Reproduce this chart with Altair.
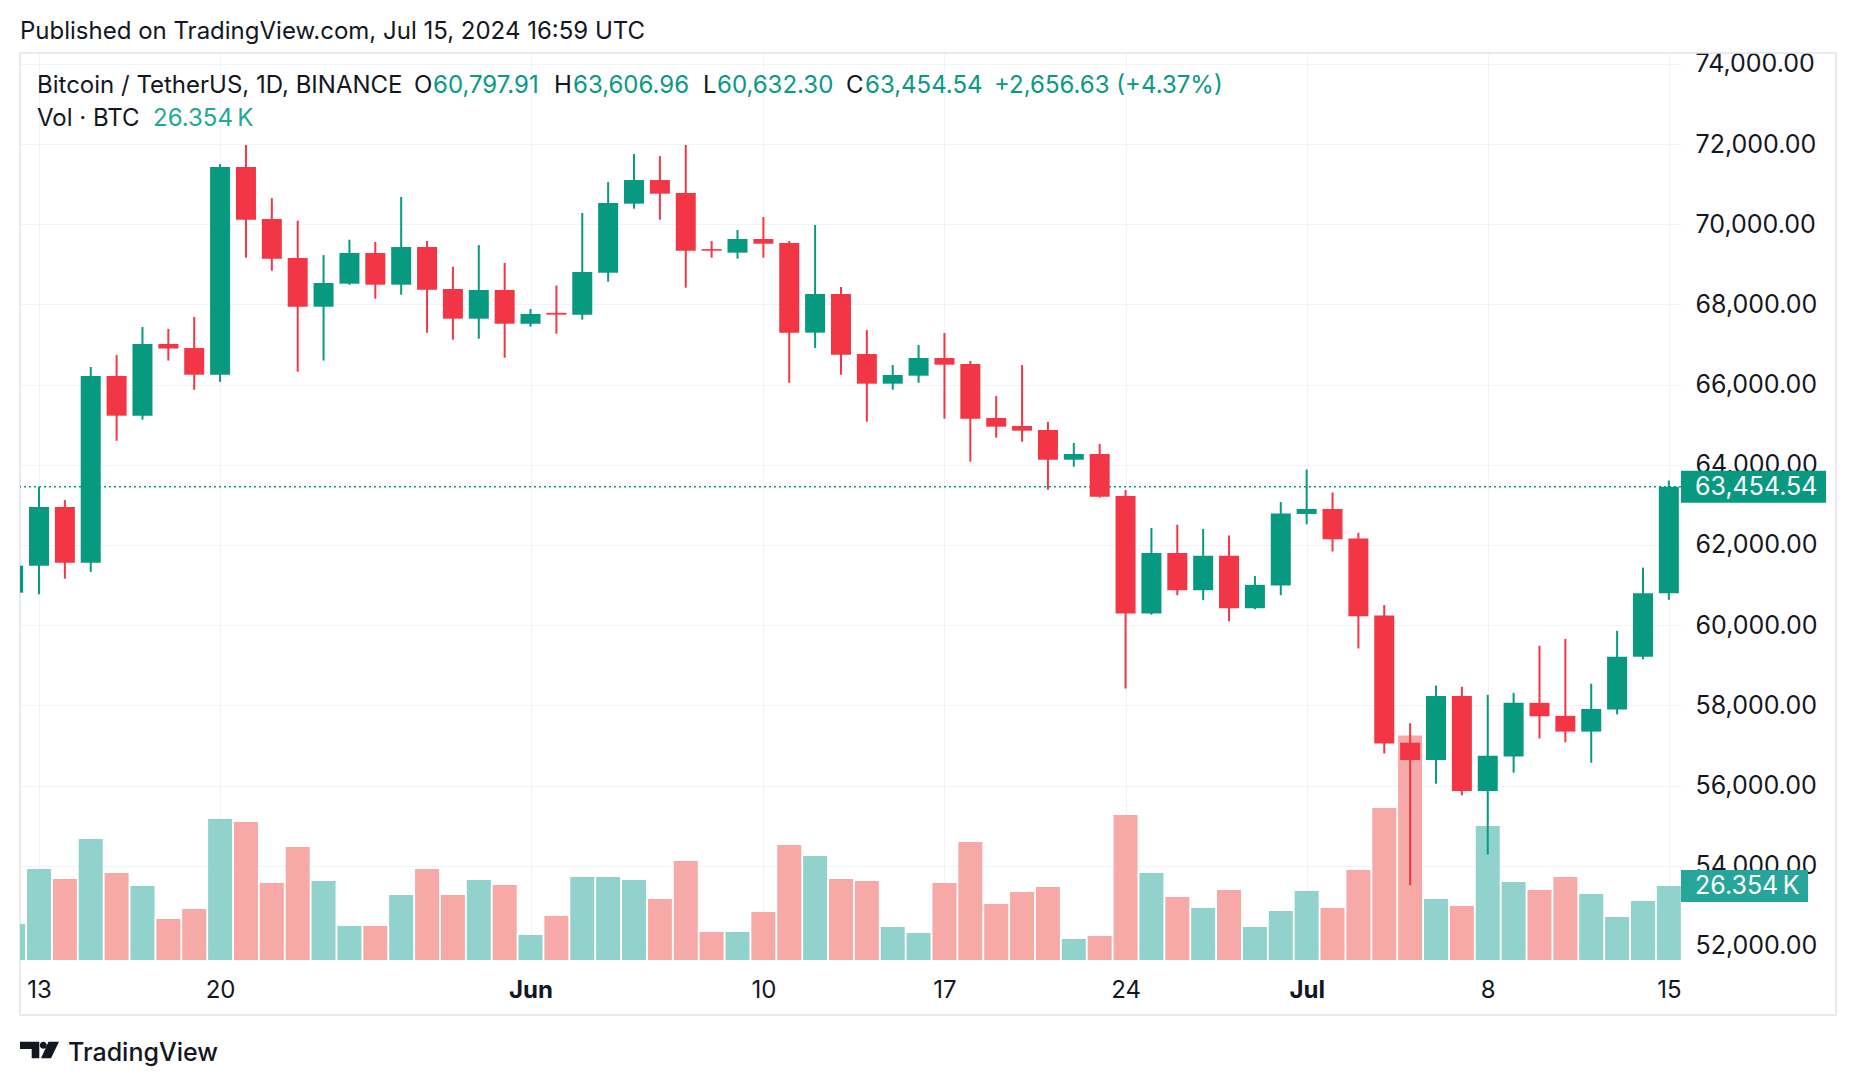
import altair as alt
import pandas as pd

# ---------------- data ----------------
dates = pd.date_range("2024-05-12", "2024-07-15", freq="D").strftime("%Y-%m-%d").tolist()

opens = [60811, 61484, 62947, 61559, 66214, 65225, 67012, 66912, 66247, 71426,
         70130, 69157, 67943, 68517, 69282, 68492, 69431, 68384, 67644, 68359,
         67519, 67790, 67744, 68791, 70512, 71102, 70778, 69380, 69290, 69631,
         69531, 67295, 68259, 66763, 66023, 66222, 66663, 66513, 65167, 64967,
         64867, 64127, 64269, 63221, 60290, 61800, 60872, 61732, 60423, 60987,
         62774, 62898, 62162, 60242, 57069, 56639, 58235, 55865, 56725, 58063,
         57738, 57346, 57900, 59210, 60797.91]
highs = [61800, 63450, 63120, 66440, 66740, 67436, 67390, 67690, 71500, 71975,
         70650, 70090, 69230, 69614, 69556, 70680, 69580, 68940, 69480, 69033,
         67885, 68470, 70280, 71050, 71750, 71700, 71975, 69580, 69855, 70180,
         69580, 69980, 68434, 67360, 66488, 66987, 67286, 66590, 65716, 66488,
         65067, 64543, 64518, 63370, 62423, 62506, 62401, 62239, 61226, 63070,
         63883, 63310, 62306, 60500, 57556, 58493, 58464, 58264, 58311, 59487,
         59659, 58541, 59860, 61436, 63606.96]
lows = [60630, 60770, 61160, 61330, 64600, 65125, 66600, 65870, 66070, 69165,
        68840, 66320, 66600, 68490, 68143, 68243, 67295, 67120, 67145, 66670,
        67444, 67270, 67620, 68567, 70387, 70113, 68417, 69165, 69140, 69165,
        66048, 66912, 66247, 65075, 65873, 66048, 65150, 64078, 64676, 64576,
        63380, 63953, 63180, 58420, 60262, 60748, 60624, 60098, 60400, 60748,
        62516, 61838, 59420, 56800, 53514, 56047, 55760, 54279, 56324, 57174,
        57079, 56572, 57776, 59150, 60632.30]
closes = [61484, 62947, 61559, 66214, 65225, 67012, 66900, 66247, 71426, 70113,
          69140, 67943, 68534, 69282, 68492, 69431, 68367, 67644, 68359, 67519,
          67760, 67745, 68808, 70529, 71102, 70761, 69340, 69340, 69631, 69514,
          67295, 68259, 66746, 66023, 66239, 66663, 66497, 65150, 64951, 64851,
          64127, 64269, 63205, 60290, 61800, 60872, 61732, 60423, 61006, 62784,
          62898, 62143, 60223, 57050, 56639, 58235, 55865, 56744, 58063, 57728,
          57346, 57910, 59210, 60797.91, 63454.54]
volumes = [12820, 32405, 28844, 43088, 30980, 26351, 14600, 18161, 50210, 49142,
           27420, 40240, 28132, 12107, 12107, 23147, 32405, 23147, 28488, 26708,
           8903, 15668, 29556, 29556, 28488, 21722, 35254, 9971, 9971, 17093,
           40952, 37034, 28844, 28132, 11751, 9615, 27420, 42020, 19942, 24215,
           25995, 7478, 8546, 51635, 30980, 22434, 18517, 24927, 11751, 17449,
           24571, 18517, 32049, 54127, 79945, 21722, 19229, 47717, 27776, 24927,
           29556, 23503, 15312, 21010, 26354]

tick_days = [0, 7, 19, 28, 35, 42, 49, 56, 63]
tick_labels = ["13", "20", "Jun", "10", "17", "24", "Jul", "8", "15"]
month_ticks = [19, 49]
price_ticks = list(range(52000, 74001, 2000))

# ---------------- styles ----------------
FONT = "Inter"
GREEN = "#089981"
RED = "#f23645"
VOL_UP = "#92d2cc"
VOL_DN = "#f7a9a7"
VOL_LBL = "#26a69a"
TXT = "#131722"
GRID = "#f0f3fa"
FRAME = "#e0e3eb"

W, H = 1661, 907

df = pd.DataFrame({"date": dates, "open": opens, "high": highs, "low": lows,
                   "close": closes, "volume": volumes})
df["day"] = (pd.to_datetime(df["date"]) - pd.Timestamp("2024-05-13")).dt.days
df["body_lo"] = df[["open", "close"]].min(axis=1)
df["body_hi"] = df[["open", "close"]].max(axis=1)
last = df.iloc[[-1]].reset_index(drop=True)
one = pd.DataFrame({"k": [0]})

label_expr = " : ".join(f"datum.value == {d} ? '{l}'" for d, l in zip(tick_days, tick_labels)) + " : ''"
bold_test = " || ".join(f"datum.value == {d}" for d in month_ticks)

x_scale = alt.Scale(domain=[-0.734, 63.47], nice=False, zero=False, padding=0)
x_axis = alt.Axis(values=tick_days, labelExpr=label_expr, grid=True, gridColor=GRID,
                  gridWidth=1, domain=False, ticks=False, tickSize=0, labelPadding=18,
                  labelFontSize=24, labelFont=FONT, labelColor=TXT, title=None,
                  labelFontWeight={"condition": {"test": bold_test, "value": "bold"}, "value": "normal"})
X = alt.X("day:Q", scale=x_scale, axis=x_axis)

p_scale = alt.Scale(domain=[51650, 74270], nice=False, zero=False, padding=0)
p_axis = alt.Axis(orient="right", values=price_ticks, format=",.2f", grid=True, gridColor=GRID,
                  domain=False, ticks=False, tickSize=0, labelPadding=14, labelFontSize=25,
                  labelFont=FONT, labelColor=TXT, labelAlign="left", title=None)
v_scale = alt.Scale(domain=[0, 323000], nice=False, zero=True, padding=0)

up = "datum.close >= datum.open"
candle_color = alt.condition(up, alt.value(GREEN), alt.value(RED))
vol_color = alt.condition(up, alt.value(VOL_UP), alt.value(VOL_DN))

# volume group
vol_bars = alt.Chart(df).mark_bar(size=24, clip=True).encode(
    x=X, y=alt.Y("volume:Q", scale=v_scale, axis=None), color=vol_color)
vol_box = alt.Chart(last).mark_rule(strokeWidth=32, color=VOL_LBL).encode(
    y=alt.Y("volume:Q", scale=v_scale, axis=None), x=alt.value(W), x2=alt.value(W + 127))
vol_text = alt.Chart(last).transform_calculate(
    lbl="format(datum.volume / 1000, '.3f') + '\u202fK'"
).mark_text(align="left", baseline="middle", color="white", fontSize=25, font=FONT).encode(
    y=alt.Y("volume:Q", scale=v_scale, axis=None), x=alt.value(W + 14), text="lbl:N")
vol_group = alt.layer(vol_bars, vol_box, vol_text)

# price group
price_line = alt.Chart(last).mark_rule(color=GREEN, strokeDash=[2, 3], strokeWidth=1.5).encode(
    y=alt.Y("close:Q", scale=p_scale, axis=p_axis))
wicks = alt.Chart(df).mark_rule(strokeWidth=2, clip=True).encode(
    x=X, y=alt.Y("low:Q", scale=p_scale, axis=p_axis), y2="high:Q", color=candle_color)
bodies = alt.Chart(df).mark_bar(size=20, orient="vertical", clip=True).encode(
    x=X, y=alt.Y("body_lo:Q", scale=p_scale, axis=p_axis), y2="body_hi:Q", color=candle_color)
price_box = alt.Chart(last).mark_rule(strokeWidth=32, color=GREEN).encode(
    y=alt.Y("close:Q", scale=p_scale, axis=p_axis), x=alt.value(W), x2=alt.value(W + 145))
price_text = alt.Chart(last).mark_text(align="left", baseline="middle", color="white",
                                       fontSize=25, font=FONT).encode(
    y=alt.Y("close:Q", scale=p_scale, axis=p_axis), x=alt.value(W + 14),
    text=alt.Text("close:Q", format=",.2f"))
price_group = alt.layer(price_line, wicks, bodies, price_box, price_text)

# annotations
def txt(s, x, y, color=TXT, size=24, weight="normal"):
    return alt.Chart(one).mark_text(align="left", baseline="middle", font=FONT, fontSize=size,
                                    color=color, fontWeight=weight).encode(
        x=alt.value(x), y=alt.value(y), text=alt.value(s))

o, h, l, c = opens[-1], highs[-1], lows[-1], closes[-1]
chg = c - closes[-2]
pct = chg / closes[-2] * 100
ann = [
    txt("Published on TradingView.com, Jul 15, 2024 16:59 UTC", 0, -21, size=24),
    txt("Bitcoin / TetherUS, 1D, BINANCE", 17, 33),
    txt("O", 394, 33), txt(f"{o:,.2f}", 413, 33, GREEN),
    txt("H", 534, 33), txt(f"{h:,.2f}", 553, 33, GREEN),
    txt("L", 683, 33), txt(f"{l:,.2f}", 697, 33, GREEN),
    txt("C", 826, 33), txt(f"{c:,.2f}", 845, 33, GREEN),
    txt(f"+{chg:,.2f} (+{pct:.2f}%)", 974, 33, GREEN),
    txt("Vol · BTC", 17, 66),
    txt(f"{volumes[-1] / 1000:.3f}\u202fK", 133, 66, VOL_LBL),
    txt("TradingView", 48, 1000, size=25, weight=500),
]

logo_path = ("M-1,-0.428 L-0.01,-0.428 L-0.01,0.428 L-0.4,0.428 L-0.4,-0.054 L-1,-0.054 Z "
             "M0.015,-0.249 A0.18,0.18 0 1,0 0.375,-0.249 A0.18,0.18 0 1,0 0.015,-0.249 Z "
             "M0.46,-0.428 L1,-0.428 L0.59,0.428 L0.077,0.428 Z")
logo = alt.Chart(one).mark_point(shape=logo_path, filled=True, color=TXT, size=1521, opacity=1,
                                 strokeWidth=0).encode(x=alt.value(19.5), y=alt.value(997))

frame = alt.Chart(one).mark_rect(fillOpacity=0, stroke=FRAME, strokeWidth=1.5).encode(
    x=alt.value(0), x2=alt.value(1816), y=alt.value(0), y2=alt.value(962))

chart = alt.layer(frame, vol_group, price_group, logo, *ann).resolve_scale(
    y="independent"
).properties(
    width=W, height=H,
    padding={"left": 12, "top": 45, "right": 165, "bottom": 110},
    autosize=alt.AutoSizeParams(type="none"),
    background="white",
).configure_view(stroke=None)

chart.save("out.html", embed_options={"renderer": "svg", "actions": False})
